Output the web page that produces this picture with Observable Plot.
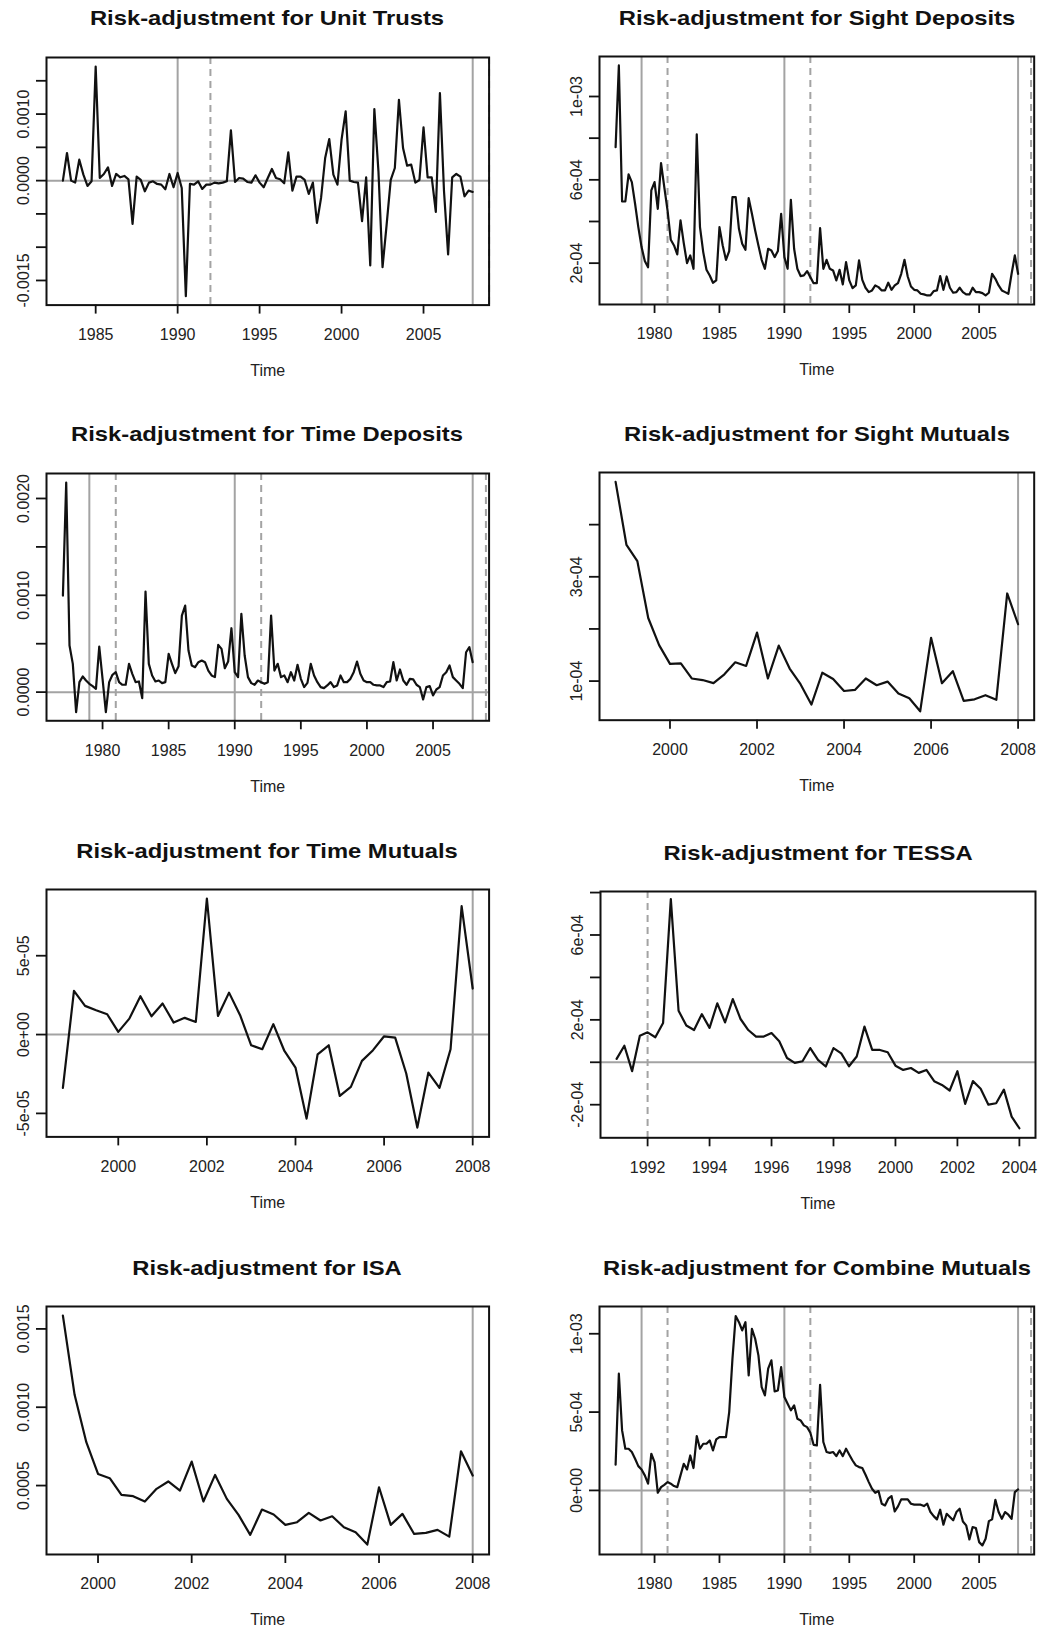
<!DOCTYPE html>
<html><head><meta charset="utf-8">
<script src="https://cdn.jsdelivr.net/npm/d3@7"></script>
<script src="https://cdn.jsdelivr.net/npm/@observablehq/plot@0.6"></script>
<style>
body{margin:0;background:#fff;}
#page{position:relative;width:1062px;height:1628px;background:#fff;overflow:hidden;}
.panel{position:absolute;}
.title{position:absolute;white-space:nowrap;font-family:"Liberation Sans",Arial,sans-serif;font-weight:bold;font-size:20.5px;line-height:1;color:#111;}
</style></head><body><div id="page"></div>
<script>
// ---------------- data (quarterly series) ----------------
const unitTrustsStart = 1983;
const unitTrusts = [
 0, 0.000415, 0, -0.00003, 0.000315, 0.00009, -0.00008, -0.00001,
 0.001715, 0.00004, 0.0001, 0.0002, -0.00008, 0.0001, 0.00005, 0.00007,
 0.00002, -0.00065, 0.00006, 0.00001, -0.00016, -0.00003, -0.00001, -0.00005,
 -0.00006, -0.00013, 0.0001, -0.0001, 0.000115, -0.00011, -0.001735, -0.00005,
 -0.00006, -0.00001, -0.000125, -0.00006, -0.00006, -0.00003, -0.00004, -0.00003,
 -0.00001, 0.000755, -0.00002, 0.00004, 0.00003, -0.00002, -0.00003, 0.00008,
 -0.00003, -0.0001, 0.00004, 0.000175, 0.00004, 0.00002, -0.00004, 0.000425,
 -0.00015, 0.00006, 0.00006, 0.00001, -0.0002, -0.00003, -0.000635, -0.00026,
 0.00034, 0.000625, 0.00009, -0.00006, 0.000615, 0.00104, 0, -0.00002,
 -0.00003, -0.00061, 0.00005, -0.001275, 0.001075, 0.00014, -0.0013, -0.00066,
 0.00001, 0.00019, 0.001215, 0.00049, 0.000225, 0.00024, -0.00003, 0.00001,
 0.0008, 0.00005, 0.00005, -0.00047, 0.001315, -0.00016, -0.00111, 0.00005,
 0.0001, 0.00006, -0.000235, -0.00015, -0.00017
];
const sightDepositsStart = 1977;
const sightDeposits = [
 7.57e-4, 1.149e-3, 4.96e-4, 4.96e-4,  6.26e-4, 5.89e-4, 4.85e-4, 3.73e-4,
 2.77e-4, 2.1e-4, 1.8e-4, 5.49e-4,     5.89e-4, 4.61e-4, 6.8e-4, 5.65e-4,
 4.53e-4, 3.12e-4, 2.85e-4, 2.42e-4,   4.05e-4, 2.96e-4, 2.0e-4, 2.37e-4,
 1.73e-4, 8.18e-4, 3.73e-4, 2.53e-4,   1.68e-4, 1.41e-4, 1.06e-4, 1.17e-4,
 3.73e-4, 2.85e-4, 2.16e-4, 2.58e-4,   5.17e-4, 5.17e-4, 3.65e-4, 2.93e-4,
 2.64e-4, 5.12e-4, 4.37e-4, 3.57e-4,   2.85e-4, 2.16e-4, 1.73e-4, 2.69e-4,
 2.61e-4, 2.29e-4, 2.58e-4, 4.37e-4,   2.29e-4, 1.73e-4, 5.04e-4, 2.69e-4,
 1.73e-4, 1.38e-4, 1.41e-4, 1.62e-4,   1.33e-4, 1.04e-4, 1.04e-4, 3.68e-4,
 1.73e-4, 2.16e-4, 1.73e-4, 1.65e-4,   1.17e-4, 1.68e-4, 9.8e-5, 2.05e-4,
 1.17e-4, 8.0e-5, 9.3e-5, 2.13e-4,     1.2e-4, 8.2e-5, 6.1e-5, 6.9e-5,
 9.3e-5, 8.5e-5, 6.9e-5, 6.9e-5,       1.06e-4, 7.2e-5, 9.3e-5, 1.04e-4,
 1.49e-4, 2.16e-4, 1.36e-4, 8.8e-5,    7.2e-5, 6.9e-5, 5.3e-5, 5.0e-5,
 4.5e-5, 4.5e-5, 6.6e-5, 6.9e-5,       1.38e-4, 7.2e-5, 1.36e-4, 8.2e-5,
 5.8e-5, 6.1e-5, 8.2e-5, 6.1e-5,       5.0e-5, 5.0e-5, 8.2e-5, 6.1e-5,
 6.1e-5, 5.6e-5, 4.5e-5, 5.8e-5,       1.49e-4, 1.25e-4, 9.3e-5, 6.9e-5,
 6.1e-5, 5.3e-5, 1.49e-4, 2.37e-4,     1.49e-4
];
const timeDepositsStart = 1977;
const timeDeposits = [
 0.000997, 0.002165, 0.000481, 0.000292,  -0.000206, 0.000103, 0.000162, 0.00012,
 0.000086, 0.000062, 0.000034, 0.000471,  0.000137, -0.000206, 0.000103, 0.000179,
 0.000206, 0.000103, 0.000076, 0.000076,  0.000292, 0.000189, 0.000103, 0.00011,
 -0.000062, 0.001038, 0.000292, 0.000172, 0.00011, 0.00012, 0.000093, 0.000103,
 0.000395, 0.000292, 0.000196, 0.000268,  0.00079, 0.000893, 0.00043, 0.000275,
 0.000258, 0.000309, 0.000326, 0.000309,  0.000223, 0.000172, 0.000155, 0.000488,
 0.000447, 0.000247, 0.000316, 0.00066,   0.000206, 0.000155, 0.000808, 0.000378,
 0.000155, 0.000093, 0.000076, 0.00012,   0.000103, 0.000086, 0.000103, 0.00079,
 0.000223, 0.000292, 0.000155, 0.000172,  0.000103, 0.000206, 0.00012, 0.000282,
 0.000137, 0.000052, 0.000096, 0.000292,  0.000172, 0.000103, 0.000052, 0.000041,
 0.000069, 0.000103, 0.000052, 0.000069,  0.000172, 0.000103, 0.000103, 0.000137,
 0.000206, 0.000316, 0.000189, 0.00012,   0.000103, 0.000103, 0.000076, 0.000069,
 0.000069, 0.000052, 0.000103, 0.00011,   0.000309, 0.00012, 0.000234, 0.00012,
 0.000076, 0.000137, 0.000131, 0.000076,  0.000052, -0.000076, 0.000052, 0.000062,
 -0.000034, 0.000027, 0.000052, 0.000172, 0.000206, 0.000275, 0.000155, 0.00012,
 0.000086, 0.000041, 0.000412, 0.000464,  0.000309
];
const sightMutualsStart = 1998.75;
const sightMutuals = [
 4.82e-4, 3.61e-4, 3.30e-4, 2.21e-4, 1.69e-4, 1.33e-4, 1.34e-4, 1.05e-4, 1.02e-4, 9.6e-5,
 1.13e-4, 1.36e-4, 1.29e-4, 1.93e-4, 1.05e-4, 1.68e-4, 1.24e-4, 9.4e-5, 5.5e-5, 1.16e-4,
 1.04e-4, 8.1e-5, 8.3e-5, 1.05e-4, 9.2e-5, 9.9e-5, 7.6e-5, 6.7e-5, 4.2e-5, 1.83e-4,
 9.6e-5, 1.19e-4, 6.2e-5, 6.5e-5, 7.3e-5, 6.4e-5, 2.68e-4, 2.09e-4
];
const timeMutualsStart = 1998.75;
const timeMutuals = [
 -3.38e-5, 2.77e-5, 1.82e-5, 1.54e-5, 1.29e-5, 1.7e-6, 1.01e-5, 2.43e-5, 1.16e-5, 1.97e-5,
 7.6e-6, 1.06e-5, 8.0e-6, 8.63e-5, 1.18e-5, 2.66e-5, 1.23e-5, -6.8e-6, -9.3e-6, 6.6e-6,
 -1.04e-5, -2.09e-5, -5.33e-5, -1.25e-5, -6.8e-6, -3.89e-5, -3.32e-5, -1.67e-5, -9.9e-6, -1.1e-6,
 -1.9e-6, -2.47e-5, -5.9e-5, -2.41e-5, -3.38e-5, -9.3e-6, 8.14e-5, 2.92e-5
];
const tessaStart = 1991;
const tessa = [
 1.6e-5, 7.8e-5, -4.2e-5, 1.25e-4, 1.41e-4, 1.18e-4, 1.85e-4, 7.69e-4, 2.43e-4, 1.73e-4,
 1.52e-4, 2.27e-4, 1.62e-4, 2.78e-4, 1.88e-4, 2.98e-4, 2.04e-4, 1.52e-4, 1.21e-4, 1.21e-4,
 1.38e-4, 9.9e-5, 2.0e-5, -3e-6, 5e-6, 6.7e-5, 1.1e-5, -2.0e-5, 6.7e-5, 4.2e-5,
 -1.9e-5, 2.7e-5, 1.68e-4, 5.8e-5, 5.8e-5, 4.7e-5, -1.6e-5, -3.6e-5, -2.7e-5, -5.0e-5,
 -3.6e-5, -8.9e-5, -1.07e-4, -1.33e-4, -4.2e-5, -1.96e-4, -8.9e-5, -1.25e-4, -2.0e-4, -1.93e-4,
 -1.29e-4, -2.56e-4, -3.11e-4
];
const isaStart = 1999.25;
const isa = [
 0.001585, 0.001079, 0.000777, 0.000574, 0.000547, 0.00044, 0.000432, 0.000398, 0.000479, 0.000526,
 0.000468, 0.000653, 0.000398, 0.000568, 0.000415, 0.000313, 0.000185, 0.000347, 0.000315, 0.000249,
 0.000266, 0.000326, 0.000277, 0.000304, 0.000234, 0.000202, 0.000123, 0.000489, 0.000249, 0.000319,
 0.000191, 0.000198, 0.000217, 0.000174, 0.000719, 0.000564
];
const combineMutualsStart = 1977;
const combineMutuals = [
 1.64e-4, 7.45e-4, 3.83e-4, 2.66e-4,   2.66e-4, 2.45e-4, 2.02e-4, 1.55e-4,
 1.34e-4, 9.6e-5, 4.3e-5, 2.34e-4,     1.81e-4, -1.5e-5, 2.1e-5, 3.6e-5,
 5.3e-5, 4.3e-5, 2.8e-5, 2.1e-5,       9.6e-5, 1.7e-4, 1.34e-4, 2.23e-4,
 1.43e-4, 3.47e-4, 2.66e-4, 2.98e-4,   2.98e-4, 3.19e-4, 2.55e-4, 3.26e-4,
 3.4e-4, 3.4e-4, 3.4e-4, 5.0e-4,       8.4e-4, 1.113e-3, 1.074e-3, 1.021e-3,
 1.074e-3, 7.34e-4, 1.032e-3, 9.68e-4, 8.62e-4, 6.6e-4, 6.06e-4, 7.77e-4,
 8.3e-4, 6.32e-4, 6.38e-4, 7.87e-4,    5.96e-4, 5.53e-4, 5.11e-4, 5.43e-4,
 4.57e-4, 4.47e-4, 4.15e-4, 4.04e-4,   3.68e-4, 2.91e-4, 2.87e-4, 6.74e-4,
 3.09e-4, 2.45e-4, 2.4e-4, 2.45e-4,    2.19e-4, 2.55e-4, 2.19e-4, 2.66e-4,
 2.28e-4, 1.91e-4, 1.6e-4, 1.49e-4,    1.43e-4, 1.0e-4, 5.3e-5, 1.1e-5,
 -1.5e-5, -4e-6, -8.5e-5, -9.6e-5,     -5.3e-5, -3.6e-5, -1.34e-4, -1.02e-4,
 -5.7e-5, -5.7e-5, -5.7e-5, -8.5e-5,   -9.1e-5, -9.1e-5, -9.1e-5, -1.0e-4,
 -8.5e-5, -1.38e-4, -1.64e-4, -1.85e-4, -1.23e-4, -2.19e-4, -1.49e-4, -1.7e-4,
 -1.91e-4, -1.38e-4, -1.17e-4, -1.98e-4, -2.23e-4, -3.13e-4, -2.34e-4, -2.4e-4,
 -3.3e-4, -3.51e-4, -3.09e-4, -1.96e-4, -1.85e-4, -6.0e-5, -1.38e-4, -1.81e-4,
 -1.38e-4, -1.55e-4, -1.81e-4, -1.1e-5, 6e-6
];

// ---------------- reference lines & ticks ----------------
const breaksSolidLong = [1979, 1990, 2008];
const breaksDashedLong = [1981, 1992, 2009];
const breaksSolidUT = [1990, 2008];
const breaksDashedUT = [1992, 2009];
const breaksSolidShort = [2008];
const breaksDashedTessa = [1992];

const xTicksUT = [1985, 1990, 1995, 2000, 2005];
const xTicksLong = [1980, 1985, 1990, 1995, 2000, 2005];
const xTicksShort = [2000, 2002, 2004, 2006, 2008];
const xTicksTessa = [1992, 1994, 1996, 1998, 2000, 2002, 2004];

const yTicksUT = [-0.0015, -0.001, -0.0005, 0, 0.0005, 0.001, 0.0015];
const yLabelsUT = ["-0.0015", "", "", "0.0000", "", "0.0010", ""];
const yTicksSD = [2e-4, 4e-4, 6e-4, 8e-4, 1e-3];
const yLabelsSD = ["2e-04", "", "6e-04", "", "1e-03"];
const yTicksTD = [0, 0.0005, 0.001, 0.0015, 0.002];
const yLabelsTD = ["0.0000", "", "0.0010", "", "0.0020"];
const yTicksSM = [1e-4, 2e-4, 3e-4, 4e-4];
const yLabelsSM = ["1e-04", "", "3e-04", ""];
const yTicksTM = [-5e-5, 0, 5e-5];
const yLabelsTM = ["-5e-05", "0e+00", "5e-05"];
const yTicksTE = [-2e-4, 0, 2e-4, 4e-4, 6e-4, 8e-4];
const yLabelsTE = ["-2e-04", "", "2e-04", "", "6e-04", ""];
const yTicksISA = [0.0005, 0.001, 0.0015];
const yLabelsISA = ["0.0005", "0.0010", "0.0015"];
const yTicksCM = [0, 5e-4, 1e-3];
const yLabelsCM = ["0e+00", "5e-04", "1e-03"];

const titles = [
  "Risk-adjustment for Unit Trusts", "Risk-adjustment for Sight Deposits",
  "Risk-adjustment for Time Deposits", "Risk-adjustment for Sight Mutuals",
  "Risk-adjustment for Time Mutuals", "Risk-adjustment for TESSA",
  "Risk-adjustment for ISA", "Risk-adjustment for Combine Mutuals"
];
const xAxisTitle = "Time";

// ---------------- panel layout ----------------
const panels = [
  {title: titles[0], start: unitTrustsStart, values: unitTrusts, box: [45.7, 488.3, 56.7, 304.3],
   xDomain: [1982, 2009], yDomain: [-0.00187, 0.00185], xTicks: xTicksUT, yTicks: yTicksUT, yLabels: yLabelsUT,
   solid: breaksSolidUT, dashed: breaksDashedUT, h: [0]},
  {title: titles[1], start: sightDepositsStart, values: sightDeposits, box: [599.3, 1034, 56, 304],
   xDomain: [1975.76, 2009.24], yDomain: [1.6e-6, 1.192e-3], xTicks: xTicksLong, yTicks: yTicksSD, yLabels: yLabelsSD,
   solid: breaksSolidLong, dashed: breaksDashedLong, h: []},
  {title: titles[2], start: timeDepositsStart, values: timeDeposits, box: [45.7, 488.3, 472.7, 720],
   xDomain: [1975.76, 2009.24], yDomain: [-0.000296, 0.002258], xTicks: xTicksLong, yTicks: yTicksTD, yLabels: yLabelsTD,
   solid: breaksSolidLong, dashed: breaksDashedLong, h: [0]},
  {title: titles[3], start: sightMutualsStart, values: sightMutuals, box: [599.3, 1034, 472.3, 720],
   xDomain: [1998.38, 2008.37], yDomain: [2.5e-5, 5.0e-4], xTicks: xTicksShort, yTicks: yTicksSM, yLabels: yLabelsSM,
   solid: breaksSolidShort, dashed: [], h: []},
  {title: titles[4], start: timeMutualsStart, values: timeMutuals, box: [45.7, 488.3, 889.3, 1136.7],
   xDomain: [1998.38, 2008.37], yDomain: [-6.49e-5, 9.2e-5], xTicks: xTicksShort, yTicks: yTicksTM, yLabels: yLabelsTM,
   solid: breaksSolidShort, dashed: [], h: [0]},
  {title: titles[5], start: tessaStart, values: tessa, box: [600, 1035, 891, 1137.3],
   xDomain: [1990.48, 2004.52], yDomain: [-3.56e-4, 8.05e-4], xTicks: xTicksTessa, yTicks: yTicksTE, yLabels: yLabelsTE,
   solid: [], dashed: breaksDashedTessa, h: [0]},
  {title: titles[6], start: isaStart, values: isa, box: [45.7, 488.3, 1306, 1554],
   xDomain: [1998.9, 2008.35], yDomain: [6.0e-5, 1.643e-3], xTicks: xTicksShort, yTicks: yTicksISA, yLabels: yLabelsISA,
   solid: breaksSolidShort, dashed: [], h: []},
  {title: titles[7], start: combineMutualsStart, values: combineMutuals, box: [599.3, 1034, 1306, 1554],
   xDomain: [1975.76, 2009.24], yDomain: [-4.09e-4, 1.174e-3], xTicks: xTicksLong, yTicks: yTicksCM, yLabels: yLabelsCM,
   solid: breaksSolidLong, dashed: breaksDashedLong, h: [0]}
];

const page = document.getElementById("page");
const ML = 50, MR = 12, MT = 12, MB = 72;
const GRAY = "#a3a3a3", INK = "#111", TXT = "#222";

for (const p of panels) {
  const [l, r, t, b] = p.box;
  const bw = r - l, bh = b - t;
  const W = ML + bw + MR, H = MT + bh + MB;
  const data = p.values.map((v, i) => ({t: p.start + i / 4, v}));
  const labelMap = new Map(p.yTicks.map((d, i) => [d, p.yLabels[i]]));
  const chart = Plot.plot({
    width: W, height: H,
    marginLeft: ML, marginRight: MR, marginTop: MT, marginBottom: MB,
    x: {domain: p.xDomain, label: null},
    y: {domain: p.yDomain, label: null},
    style: {fontFamily: "'Liberation Sans', Arial, sans-serif", fontSize: "16px", color: TXT, background: "transparent", overflow: "visible"},
    marks: [
      Plot.ruleY(p.h, {stroke: GRAY, strokeWidth: 2}),
      Plot.ruleX(p.solid, {stroke: GRAY, strokeWidth: 2}),
      Plot.ruleX(p.dashed, {stroke: GRAY, strokeWidth: 2, strokeDasharray: "7,5"}),
      Plot.line(data, {x: "t", y: "v", stroke: INK, strokeWidth: 2.2, strokeLinejoin: "round"}),
      Plot.frame({stroke: INK, strokeWidth: 2}),
      Plot.axisX(p.xTicks, {label: null, tickSize: 9, tickPadding: 14.5, tickFormat: d => String(d), stroke: INK, strokeWidth: 1.8, fill: TXT, fontSize: 16}),
      Plot.axisY(p.yTicks, {label: null, tickSize: 10, tickPadding: 7.5, tickRotate: -90, tickFormat: d => labelMap.get(d), stroke: INK, strokeWidth: 1.8, fill: TXT, fontSize: 16}),
      Plot.text([xAxisTitle], {frameAnchor: "bottom", dy: 59.5, lineAnchor: "top", fontSize: 16, fill: TXT})
    ]
  });
  const div = document.createElement("div");
  div.className = "panel";
  div.style.left = (l - ML) + "px";
  div.style.top = (t - MT) + "px";
  div.appendChild(chart);
  page.appendChild(div);

  const tt = document.createElement("div");
  tt.className = "title";
  tt.textContent = p.title;
  tt.style.left = ((l + r) / 2) + "px";
  tt.style.top = (t - 31 - 17.35) + "px";
  tt.style.transform = "translateX(-50%) scaleX(1.16)";
  page.appendChild(tt);
}
</script>
</body></html>
